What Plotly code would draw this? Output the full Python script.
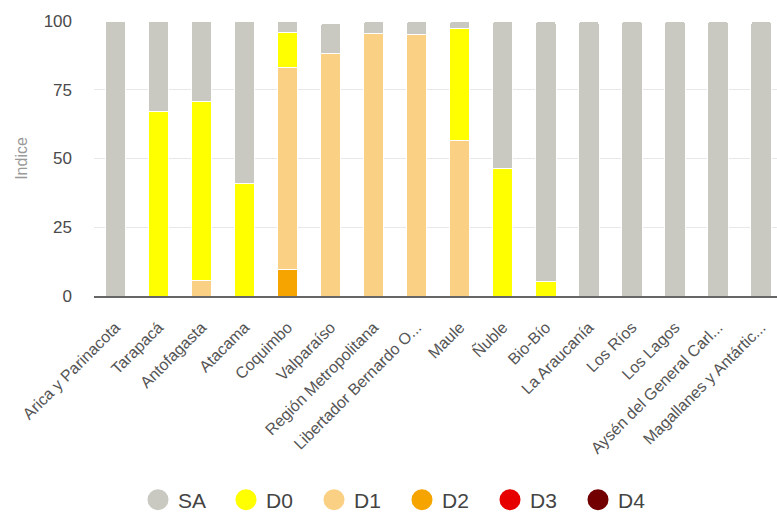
import plotly.graph_objects as go

regions = ["Arica y Parinacota", "Tarapacá", "Antofagasta", "Atacama", "Coquimbo",
           "Valparaíso", "Región Metropolitana", "Libertador Bernardo O...", "Maule",
           "Ñuble", "Bio-Bío", "La Araucanía", "Los Ríos", "Los Lagos",
           "Aysén del General Carl...", "Magallanes y Antártic..."]

D4 = [0, 0, 0, 0, 0, 0, 0, 0, 0, 0, 0, 0, 0, 0, 0, 0]
D3 = [0, 0, 0, 0, 0, 0, 0, 0, 0, 0, 0, 0, 0, 0, 0, 0]
D2 = [0, 0, 0, 0, 9.8, 0, 0, 0, 0, 0, 0, 0, 0, 0, 0, 0]
D1 = [0, 0, 5.5, 0, 73.4, 88.3, 95.6, 95.1, 56.4, 0, 0, 0, 0, 0, 0, 0]
D0 = [0, 67.0, 65.2, 41.0, 12.5, 0, 0, 0, 40.8, 46.5, 5.1, 0, 0, 0, 0, 0]
SA = [100, 33.0, 29.3, 59.0, 4.3, 10.9, 4.4, 4.9, 2.8, 53.5, 94.9, 100, 100, 100, 100, 100]

series = [("D4", D4, "#730000"), ("D3", D3, "#e60000"), ("D2", D2, "#f6a400"),
          ("D1", D1, "#fad084"), ("D0", D0, "#ffff00"), ("SA", SA, "#c9c9c2")]

fig = go.Figure()
for name, vals, col in series:
    fig.add_trace(go.Bar(x=regions, y=vals, name=name, marker_color=col,
                         marker_line_color="white", marker_line_width=1,
                         showlegend=False))
for name, vals, col in reversed(series):
    fig.add_trace(go.Scatter(x=[None], y=[None], mode="markers", name=name,
                             marker=dict(symbol="circle", size=16, color=col,
                                         line=dict(color=col, width=5))))

fig.update_layout(
    width=777, height=513, barmode="stack", bargap=0.53, barcornerradius=3,
    plot_bgcolor="white", paper_bgcolor="white",
    margin=dict(l=94, r=0, t=21, b=217),
    font=dict(family="Liberation Sans", color="#444444"),
    legend=dict(orientation="h", xref="container", yref="container",
                x=138 / 777, xanchor="left", y=1 - 500 / 513, yanchor="middle",
                font=dict(size=21, color="#444444"), entrywidth=43, itemclick=False,
                traceorder="normal"),
    xaxis=dict(range=[-0.5, 15.37], tickangle=-45, tickfont=dict(size=16, color="#555555"),
               showgrid=False, showline=True, linecolor="#666666", linewidth=1.5,
               ticks="", automargin=False, ticklabelstandoff=14),
    yaxis=dict(range=[0, 100], tickvals=[0, 25, 50, 75, 100],
               tickfont=dict(size=17, color="#4a4a4a"), gridcolor="#e8e8e8",
               zeroline=False, ticklabelstandoff=21, automargin=False,
               title=dict(text="Indice", font=dict(size=16, color="#999999"), standoff=12)),
)
fig.write_html("out.html")
